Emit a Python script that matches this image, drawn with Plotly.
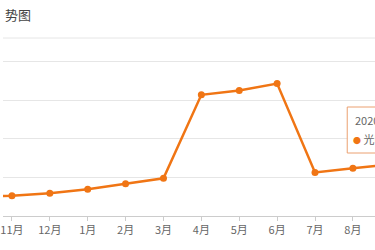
import plotly.graph_objects as go

months = ["10月", "11月", "12月", "1月", "2月", "3月", "4月", "5月", "6月", "7月", "8月", "9月"]
values = [5.05, 5.23, 5.88, 6.92, 8.37, 9.77, 31.4, 32.5, 34.3, 11.3, 12.4, 13.4]
series_name = "光明"
title_text = "势图"
tooltip_date = "2020-09"

W, H = 375, 250
L, R, T, B = 0, 0, 40, 34
ORANGE = "#f07514"

fig = go.Figure()
fig.add_trace(go.Scatter(
    x=list(range(len(months))), y=values, mode="lines+markers",
    line=dict(color=ORANGE, width=2.5),
    marker=dict(color=ORANGE, size=7),
    name=series_name, showlegend=False, cliponaxis=False,
))

step = 38.19
x0 = 1 - 9 / step
x1 = x0 + W / step
plot_h = H - T - B
unit_px = 3.86
fig.update_layout(
    width=W, height=H, margin=dict(l=L, r=R, t=T, b=B),
    paper_bgcolor="white", plot_bgcolor="white",
    font=dict(family="Noto Sans CJK SC, sans-serif", color="#666", size=11),
    xaxis=dict(
        range=[x0, x1], tickmode="array", tickvals=list(range(len(months))),
        ticktext=months, showgrid=False, zeroline=False,
        showline=True, linecolor="#cccccc", linewidth=1,
        ticks="outside", ticklen=4, tickcolor="#cccccc",
        tickfont=dict(size=11, color="#666"), ticklabeloverflow="allow",
    ),
    yaxis=dict(
        range=[0, plot_h / unit_px], dtick=10, tick0=0,
        showticklabels=False, showgrid=True, gridcolor="#e6e6e6", gridwidth=1,
        zeroline=False, showline=False,
    ),
)

def py(p):
    return (H - B - p) / plot_h

fig.add_shape(type="line", xref="paper", yref="paper", x0=0, x1=1, y0=py(38), y1=py(38),
              line=dict(color="#e6e6e6", width=1))
fig.add_annotation(xref="paper", yref="paper", x=0, y=py(15), text=title_text,
                   showarrow=False, xanchor="left", yanchor="middle",
                   font=dict(size=13, color="#444"))

# tooltip
fig.add_shape(type="rect", xref="paper", yref="paper",
              x0=347 / W, x1=390 / W, y0=py(153), y1=py(107),
              fillcolor="rgba(255,255,255,0.9)", line=dict(color="#eba070", width=1))
fig.add_annotation(xref="paper", yref="paper", x=353 / W, y=py(120), text=tooltip_date,
                   showarrow=False, xanchor="left", yanchor="middle",
                   font=dict(size=11, color="#666"))
fig.add_annotation(xref="paper", yref="paper", x=351 / W, y=py(139),
                   text=f"<span style='color:{ORANGE};font-size:8px'>●</span> {series_name}: {values[-1]}",
                   showarrow=False, xanchor="left", yanchor="middle",
                   font=dict(size=11, color="#666"))

fig.write_html("out.html")
